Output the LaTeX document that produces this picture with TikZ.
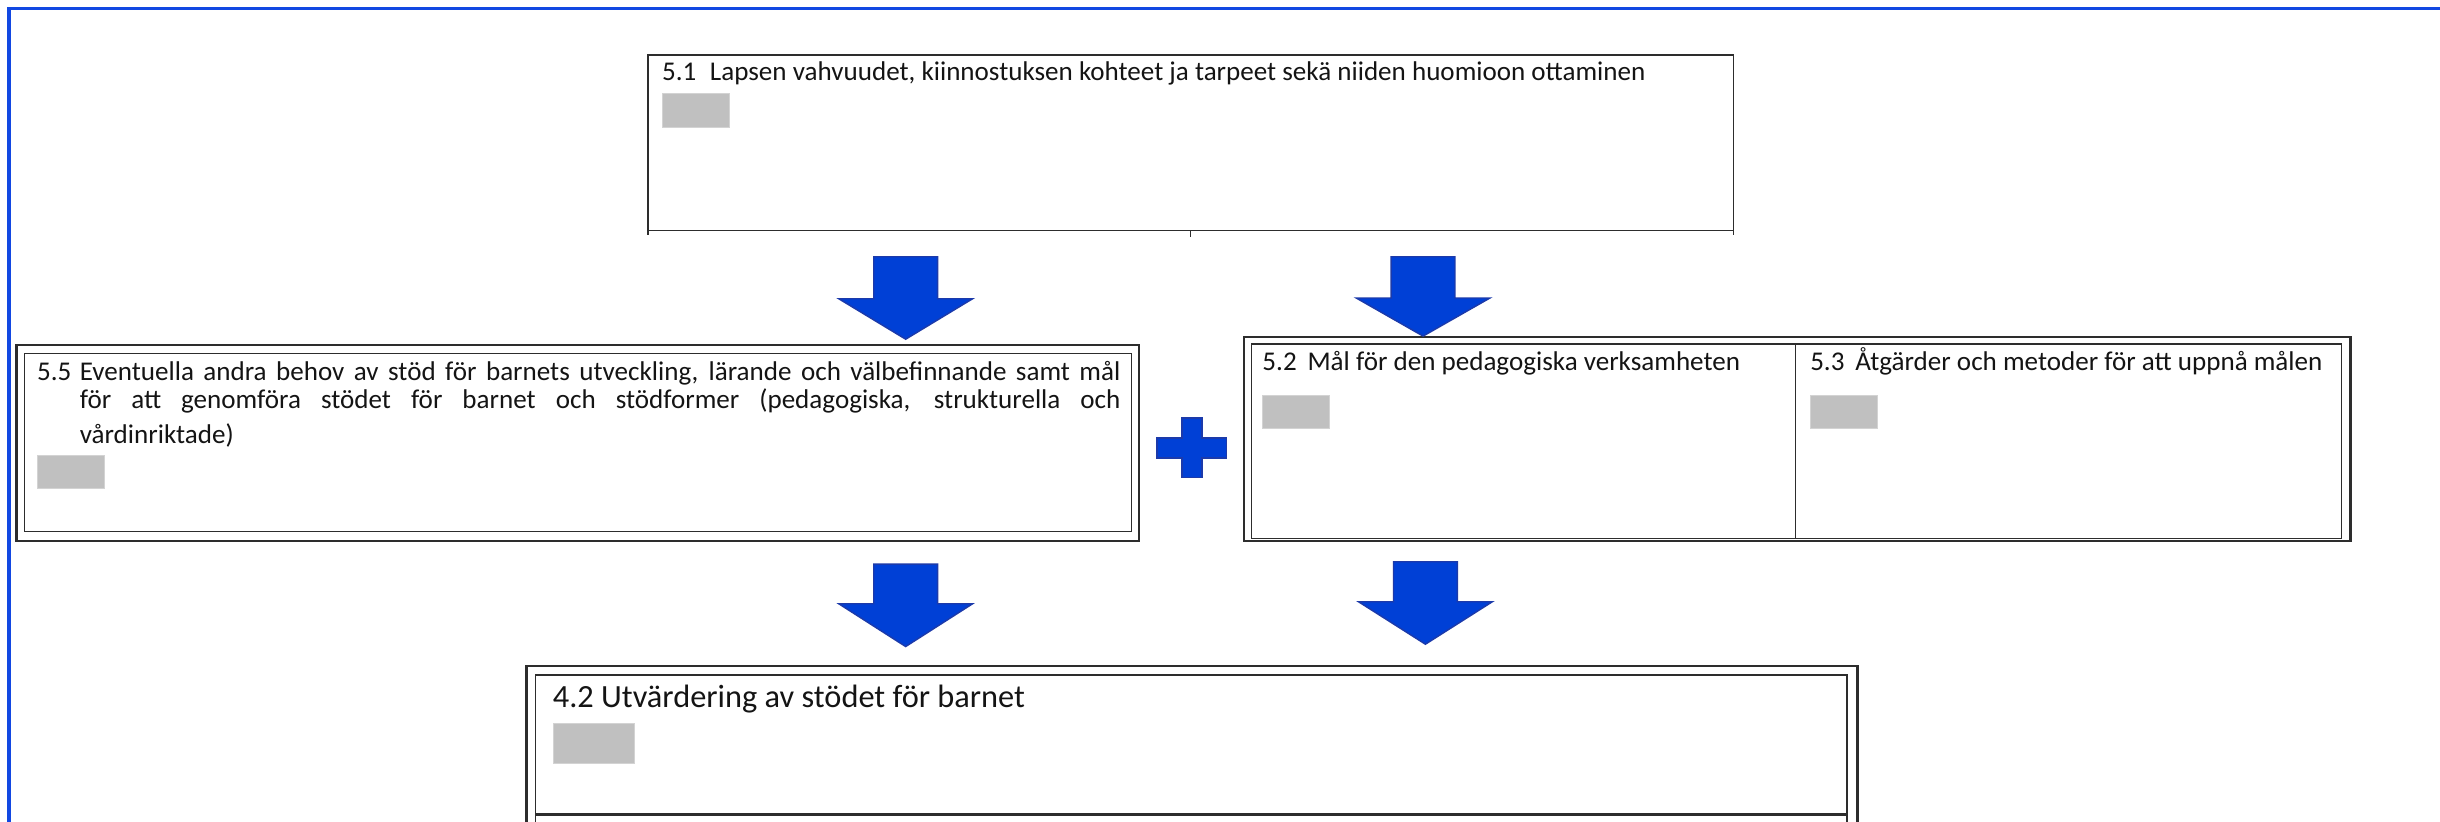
\documentclass[tikz,border=0pt]{standalone}
\usepackage{fontspec}
\setmainfont{Carlito}
\definecolor{frameblue}{RGB}{18,72,226}
\definecolor{arrowblue}{RGB}{0,64,214}
\definecolor{arrowedge}{RGB}{28,58,170}
\definecolor{fieldgray}{RGB}{192,192,192}
\definecolor{linegray}{RGB}{45,45,45}
\definecolor{textdark}{RGB}{20,20,20}
\tikzset{
  outerbox/.style={draw=linegray, line width=1.5pt, inner sep=0pt, outer sep=0pt, anchor=north west},
  innerbox/.style={draw=linegray, line width=0.9pt, inner sep=0pt, outer sep=0pt, anchor=north west},
  singlebox/.style={draw=linegray, line width=1pt, inner sep=0pt, outer sep=0pt, anchor=north west},
  thinline/.style={draw=linegray, line width=0.9pt},
  field/.style={fill=fieldgray, draw=fieldgray!70!white, line width=0.4pt, inner sep=0pt, outer sep=0pt, anchor=north west, minimum width=43pt, minimum height=21.5pt},
  label/.style={inner sep=0pt, outer sep=0pt, anchor=base west, text=textdark, font=\fontsize{17.4}{18.6}\selectfont},
  biglabel/.style={inner sep=0pt, outer sep=0pt, anchor=base west, text=textdark, font=\fontsize{20.8}{24}\selectfont},
  blockarrow/.style={fill=arrowblue, draw=arrowedge, line width=0.9pt, line join=miter},
  frameline/.style={draw=frameblue, line width=2pt}
}
\begin{document}
\begin{tikzpicture}[x=1pt,y=-1pt]
\useasboundingbox (0,0) rectangle (1568,527.6);
\clip (0,0) rectangle (1568,527.6);
% outer blue frame
\draw[frameline] (1575,5.2) -- (5.8,5.2) -- (5.8,535);

% box 5.1
\node[singlebox, minimum width=697.7pt, minimum height=112.9pt] (b51) at (416.4,35.3) {};
\draw[thinline] (b51.south west) -- ++(0,3);
\draw[thinline] (b51.south east) -- ++(0,3);
\draw[thinline] ([xshift=348.8pt]b51.south west) -- ++(0,4);
\node[label] (t51) at (425.5,51.8) {5.1\hspace{0.5em}Lapsen vahvuudet, kiinnostuksen kohteet ja tarpeet sekä niiden huomioon ottaminen};
\node[field] (f51) at (425.5,60) {};

% box 5.5
\node[outerbox, minimum width=721.5pt, minimum height=125.8pt] (b55) at (10.5,221.7) {};
\node[innerbox, minimum width=711.6pt, minimum height=114.7pt] (b55i) at (15.7,227) {};
\node[inner sep=0pt, outer sep=0pt, anchor=base west, text=textdark] (t55) at (23.8,244.2) {\parbox[t]{696.2pt}{\fontsize{17.4}{18.3}\selectfont\hangindent=27.5pt\hangafter=1\noindent\makebox[27.5pt][l]{5.5}Eventuella andra behov av stöd för barnets utveckling, lärande och välbefinnande samt mål\linebreak för att genomföra stödet för barnet och stödformer (pedagogiska, strukturella och\vadjust{\vspace{4.5pt}}\linebreak vårdinriktade)}};
\node[field] (f55) at (23.8,292.6) {};

% plus sign
\draw[blockarrow] (759.6,268.6) -- (772.5,268.6) -- (772.5,281.5) -- (788,281.5) -- (788,294.3) -- (772.5,294.3) -- (772.5,307) -- (759.6,307) -- (759.6,294.3) -- (743.6,294.3) -- (743.6,281.5) -- (759.6,281.5) -- cycle;

% box 5.2 / 5.3
\node[outerbox, minimum width=711.1pt, minimum height=131.1pt] (b523) at (799.4,216.4) {};
\node[innerbox, minimum width=349.6pt, minimum height=125pt] (b52) at (804.4,221) {};
\node[innerbox, minimum width=350.6pt, minimum height=125pt] (b53) at (1154,221) {};
\node[label] (t52) at (811.3,237.8) {5.2\hspace{0.4em}Mål för den pedagogiska verksamheten};
\node[label] (t53) at (1163.3,237.8) {5.3\hspace{0.4em}Åtgärder och metoder för att uppnå målen};
\node[field] (f52) at (811.3,254) {};
\node[field] (f53) at (1163.3,254) {};

% box 4.2
\node[outerbox, minimum width=855.4pt, minimum height=130pt] (b42) at (338.3,427.8) {};
\node[innerbox, minimum width=842.9pt, minimum height=120pt] (b42i) at (344,433.8) {};
\draw[draw=linegray, line width=1.8pt] ([yshift=-89.6pt]b42i.north west) -- ([yshift=-89.6pt]b42i.north east);
\node[biglabel] (t42) at (355.3,454.6) {4.2 Utvärdering av stödet för barnet};
\node[field, minimum width=52pt, minimum height=26pt] (f42) at (355.3,464.5) {};

% block arrows
\foreach \c/\t/\b/\p in {582/165/192/218, 914.5/165/191.5/216, 582/362.5/388/415.5, 916/361/386.7/414}{
  \draw[blockarrow] (\c-20.5,\t) -- (\c+20.5,\t) -- (\c+20.5,\b) -- (\c+43,\b) -- (\c,\p) -- (\c-43,\b) -- (\c-20.5,\b) -- cycle;
}
\end{tikzpicture}
\end{document}
